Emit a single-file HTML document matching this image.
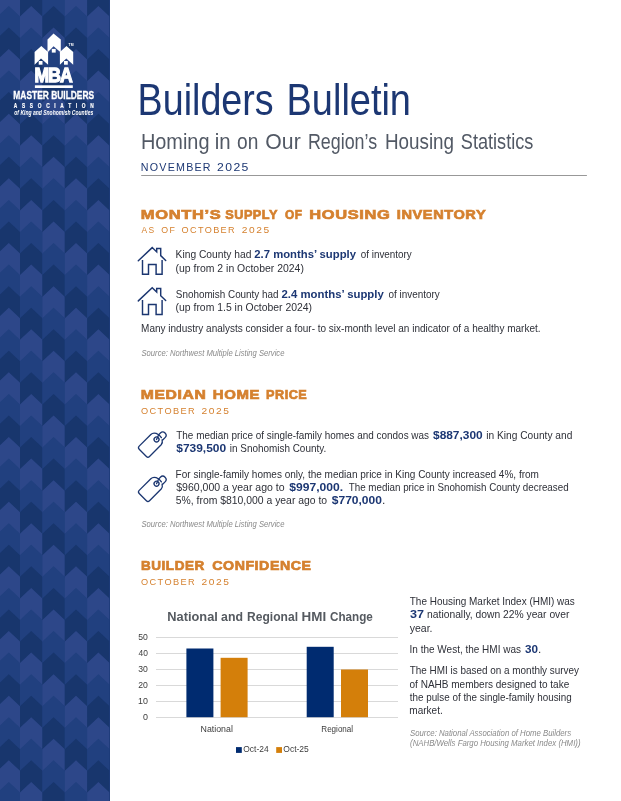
<!DOCTYPE html>
<html lang="en">
<head>
<meta charset="utf-8">
<title>Builders Bulletin</title>
<style>
html,body{margin:0;padding:0;background:#fff;}
body{width:621px;height:801px;position:relative;overflow:hidden;font-family:"Liberation Sans",sans-serif;}
.t{position:absolute;left:0;white-space:nowrap;line-height:1;transform-origin:0 50%;}
.t b{color:#1c3773;font-weight:bold;}
svg{position:absolute;left:0;top:0;}
</style>
</head>
<body>
<svg width="621" height="801" viewBox="0 0 621 801">
<defs><clipPath id="sb"><rect x="0" y="0" width="110" height="801"/></clipPath></defs>
<rect x="0" y="0" width="110" height="801" fill="#21407f"/>
<g clip-path="url(#sb)" shape-rendering="geometricPrecision">
<polygon fill="#2d4789" points="-2.40,-5.16 8.80,-15.66 20.00,-5.16 20.00,16.90 8.80,6.40 -2.40,16.90"/>
<polygon fill="#21407f" points="-2.40,16.40 8.80,5.90 20.00,16.40 20.00,38.46 8.80,27.96 -2.40,38.46"/>
<polygon fill="#18366d" points="-2.40,37.96 8.80,27.46 20.00,37.96 20.00,60.01 8.80,49.51 -2.40,60.01"/>
<polygon fill="#2d4789" points="-2.40,59.51 8.80,49.01 20.00,59.51 20.00,81.57 8.80,71.07 -2.40,81.57"/>
<polygon fill="#21407f" points="-2.40,81.07 8.80,70.57 20.00,81.07 20.00,103.12 8.80,92.62 -2.40,103.12"/>
<polygon fill="#18366d" points="-2.40,102.62 8.80,92.12 20.00,102.62 20.00,124.68 8.80,114.18 -2.40,124.68"/>
<polygon fill="#2d4789" points="-2.40,124.18 8.80,113.68 20.00,124.18 20.00,146.24 8.80,135.74 -2.40,146.24"/>
<polygon fill="#21407f" points="-2.40,145.74 8.80,135.24 20.00,145.74 20.00,167.79 8.80,157.29 -2.40,167.79"/>
<polygon fill="#18366d" points="-2.40,167.29 8.80,156.79 20.00,167.29 20.00,189.35 8.80,178.85 -2.40,189.35"/>
<polygon fill="#2d4789" points="-2.40,188.85 8.80,178.35 20.00,188.85 20.00,210.90 8.80,200.40 -2.40,210.90"/>
<polygon fill="#21407f" points="-2.40,210.40 8.80,199.90 20.00,210.40 20.00,232.46 8.80,221.96 -2.40,232.46"/>
<polygon fill="#18366d" points="-2.40,231.96 8.80,221.46 20.00,231.96 20.00,254.02 8.80,243.52 -2.40,254.02"/>
<polygon fill="#2d4789" points="-2.40,253.52 8.80,243.02 20.00,253.52 20.00,275.57 8.80,265.07 -2.40,275.57"/>
<polygon fill="#21407f" points="-2.40,275.07 8.80,264.57 20.00,275.07 20.00,297.13 8.80,286.63 -2.40,297.13"/>
<polygon fill="#18366d" points="-2.40,296.63 8.80,286.13 20.00,296.63 20.00,318.68 8.80,308.18 -2.40,318.68"/>
<polygon fill="#2d4789" points="-2.40,318.18 8.80,307.68 20.00,318.18 20.00,340.24 8.80,329.74 -2.40,340.24"/>
<polygon fill="#21407f" points="-2.40,339.74 8.80,329.24 20.00,339.74 20.00,361.80 8.80,351.30 -2.40,361.80"/>
<polygon fill="#18366d" points="-2.40,361.30 8.80,350.80 20.00,361.30 20.00,383.35 8.80,372.85 -2.40,383.35"/>
<polygon fill="#2d4789" points="-2.40,382.85 8.80,372.35 20.00,382.85 20.00,404.91 8.80,394.41 -2.40,404.91"/>
<polygon fill="#21407f" points="-2.40,404.41 8.80,393.91 20.00,404.41 20.00,426.46 8.80,415.96 -2.40,426.46"/>
<polygon fill="#18366d" points="-2.40,425.96 8.80,415.46 20.00,425.96 20.00,448.02 8.80,437.52 -2.40,448.02"/>
<polygon fill="#2d4789" points="-2.40,447.52 8.80,437.02 20.00,447.52 20.00,469.58 8.80,459.08 -2.40,469.58"/>
<polygon fill="#21407f" points="-2.40,469.08 8.80,458.58 20.00,469.08 20.00,491.13 8.80,480.63 -2.40,491.13"/>
<polygon fill="#18366d" points="-2.40,490.63 8.80,480.13 20.00,490.63 20.00,512.69 8.80,502.19 -2.40,512.69"/>
<polygon fill="#2d4789" points="-2.40,512.19 8.80,501.69 20.00,512.19 20.00,534.24 8.80,523.74 -2.40,534.24"/>
<polygon fill="#21407f" points="-2.40,533.74 8.80,523.24 20.00,533.74 20.00,555.80 8.80,545.30 -2.40,555.80"/>
<polygon fill="#18366d" points="-2.40,555.30 8.80,544.80 20.00,555.30 20.00,577.36 8.80,566.86 -2.40,577.36"/>
<polygon fill="#2d4789" points="-2.40,576.86 8.80,566.36 20.00,576.86 20.00,598.91 8.80,588.41 -2.40,598.91"/>
<polygon fill="#21407f" points="-2.40,598.41 8.80,587.91 20.00,598.41 20.00,620.47 8.80,609.97 -2.40,620.47"/>
<polygon fill="#18366d" points="-2.40,619.97 8.80,609.47 20.00,619.97 20.00,642.02 8.80,631.52 -2.40,642.02"/>
<polygon fill="#2d4789" points="-2.40,641.52 8.80,631.02 20.00,641.52 20.00,663.58 8.80,653.08 -2.40,663.58"/>
<polygon fill="#21407f" points="-2.40,663.08 8.80,652.58 20.00,663.08 20.00,685.14 8.80,674.64 -2.40,685.14"/>
<polygon fill="#18366d" points="-2.40,684.64 8.80,674.14 20.00,684.64 20.00,706.69 8.80,696.19 -2.40,706.69"/>
<polygon fill="#2d4789" points="-2.40,706.19 8.80,695.69 20.00,706.19 20.00,728.25 8.80,717.75 -2.40,728.25"/>
<polygon fill="#21407f" points="-2.40,727.75 8.80,717.25 20.00,727.75 20.00,749.80 8.80,739.30 -2.40,749.80"/>
<polygon fill="#18366d" points="-2.40,749.30 8.80,738.80 20.00,749.30 20.00,771.36 8.80,760.86 -2.40,771.36"/>
<polygon fill="#2d4789" points="-2.40,770.86 8.80,760.36 20.00,770.86 20.00,792.92 8.80,782.42 -2.40,792.92"/>
<polygon fill="#21407f" points="-2.40,792.42 8.80,781.92 20.00,792.42 20.00,814.47 8.80,803.97 -2.40,814.47"/>
<polygon fill="#18366d" points="-2.40,813.97 8.80,803.47 20.00,813.97 20.00,836.03 8.80,825.53 -2.40,836.03"/>
<polygon fill="#2d4789" points="-2.40,835.53 8.80,825.03 20.00,835.53 20.00,857.58 8.80,847.08 -2.40,857.58"/>
<polygon fill="#18366d" points="20.00,-5.16 31.20,-15.66 42.40,-5.16 42.40,16.90 31.20,6.40 20.00,16.90"/>
<polygon fill="#2d4789" points="20.00,16.40 31.20,5.90 42.40,16.40 42.40,38.46 31.20,27.96 20.00,38.46"/>
<polygon fill="#21407f" points="20.00,37.96 31.20,27.46 42.40,37.96 42.40,60.01 31.20,49.51 20.00,60.01"/>
<polygon fill="#18366d" points="20.00,59.51 31.20,49.01 42.40,59.51 42.40,81.57 31.20,71.07 20.00,81.57"/>
<polygon fill="#2d4789" points="20.00,81.07 31.20,70.57 42.40,81.07 42.40,103.12 31.20,92.62 20.00,103.12"/>
<polygon fill="#21407f" points="20.00,102.62 31.20,92.12 42.40,102.62 42.40,124.68 31.20,114.18 20.00,124.68"/>
<polygon fill="#18366d" points="20.00,124.18 31.20,113.68 42.40,124.18 42.40,146.24 31.20,135.74 20.00,146.24"/>
<polygon fill="#2d4789" points="20.00,145.74 31.20,135.24 42.40,145.74 42.40,167.79 31.20,157.29 20.00,167.79"/>
<polygon fill="#21407f" points="20.00,167.29 31.20,156.79 42.40,167.29 42.40,189.35 31.20,178.85 20.00,189.35"/>
<polygon fill="#18366d" points="20.00,188.85 31.20,178.35 42.40,188.85 42.40,210.90 31.20,200.40 20.00,210.90"/>
<polygon fill="#2d4789" points="20.00,210.40 31.20,199.90 42.40,210.40 42.40,232.46 31.20,221.96 20.00,232.46"/>
<polygon fill="#21407f" points="20.00,231.96 31.20,221.46 42.40,231.96 42.40,254.02 31.20,243.52 20.00,254.02"/>
<polygon fill="#18366d" points="20.00,253.52 31.20,243.02 42.40,253.52 42.40,275.57 31.20,265.07 20.00,275.57"/>
<polygon fill="#2d4789" points="20.00,275.07 31.20,264.57 42.40,275.07 42.40,297.13 31.20,286.63 20.00,297.13"/>
<polygon fill="#21407f" points="20.00,296.63 31.20,286.13 42.40,296.63 42.40,318.68 31.20,308.18 20.00,318.68"/>
<polygon fill="#18366d" points="20.00,318.18 31.20,307.68 42.40,318.18 42.40,340.24 31.20,329.74 20.00,340.24"/>
<polygon fill="#2d4789" points="20.00,339.74 31.20,329.24 42.40,339.74 42.40,361.80 31.20,351.30 20.00,361.80"/>
<polygon fill="#21407f" points="20.00,361.30 31.20,350.80 42.40,361.30 42.40,383.35 31.20,372.85 20.00,383.35"/>
<polygon fill="#18366d" points="20.00,382.85 31.20,372.35 42.40,382.85 42.40,404.91 31.20,394.41 20.00,404.91"/>
<polygon fill="#2d4789" points="20.00,404.41 31.20,393.91 42.40,404.41 42.40,426.46 31.20,415.96 20.00,426.46"/>
<polygon fill="#21407f" points="20.00,425.96 31.20,415.46 42.40,425.96 42.40,448.02 31.20,437.52 20.00,448.02"/>
<polygon fill="#18366d" points="20.00,447.52 31.20,437.02 42.40,447.52 42.40,469.58 31.20,459.08 20.00,469.58"/>
<polygon fill="#2d4789" points="20.00,469.08 31.20,458.58 42.40,469.08 42.40,491.13 31.20,480.63 20.00,491.13"/>
<polygon fill="#21407f" points="20.00,490.63 31.20,480.13 42.40,490.63 42.40,512.69 31.20,502.19 20.00,512.69"/>
<polygon fill="#18366d" points="20.00,512.19 31.20,501.69 42.40,512.19 42.40,534.24 31.20,523.74 20.00,534.24"/>
<polygon fill="#2d4789" points="20.00,533.74 31.20,523.24 42.40,533.74 42.40,555.80 31.20,545.30 20.00,555.80"/>
<polygon fill="#21407f" points="20.00,555.30 31.20,544.80 42.40,555.30 42.40,577.36 31.20,566.86 20.00,577.36"/>
<polygon fill="#18366d" points="20.00,576.86 31.20,566.36 42.40,576.86 42.40,598.91 31.20,588.41 20.00,598.91"/>
<polygon fill="#2d4789" points="20.00,598.41 31.20,587.91 42.40,598.41 42.40,620.47 31.20,609.97 20.00,620.47"/>
<polygon fill="#21407f" points="20.00,619.97 31.20,609.47 42.40,619.97 42.40,642.02 31.20,631.52 20.00,642.02"/>
<polygon fill="#18366d" points="20.00,641.52 31.20,631.02 42.40,641.52 42.40,663.58 31.20,653.08 20.00,663.58"/>
<polygon fill="#2d4789" points="20.00,663.08 31.20,652.58 42.40,663.08 42.40,685.14 31.20,674.64 20.00,685.14"/>
<polygon fill="#21407f" points="20.00,684.64 31.20,674.14 42.40,684.64 42.40,706.69 31.20,696.19 20.00,706.69"/>
<polygon fill="#18366d" points="20.00,706.19 31.20,695.69 42.40,706.19 42.40,728.25 31.20,717.75 20.00,728.25"/>
<polygon fill="#2d4789" points="20.00,727.75 31.20,717.25 42.40,727.75 42.40,749.80 31.20,739.30 20.00,749.80"/>
<polygon fill="#21407f" points="20.00,749.30 31.20,738.80 42.40,749.30 42.40,771.36 31.20,760.86 20.00,771.36"/>
<polygon fill="#18366d" points="20.00,770.86 31.20,760.36 42.40,770.86 42.40,792.92 31.20,782.42 20.00,792.92"/>
<polygon fill="#2d4789" points="20.00,792.42 31.20,781.92 42.40,792.42 42.40,814.47 31.20,803.97 20.00,814.47"/>
<polygon fill="#21407f" points="20.00,813.97 31.20,803.47 42.40,813.97 42.40,836.03 31.20,825.53 20.00,836.03"/>
<polygon fill="#18366d" points="20.00,835.53 31.20,825.03 42.40,835.53 42.40,857.58 31.20,847.08 20.00,857.58"/>
<polygon fill="#21407f" points="42.40,-5.16 53.60,-15.66 64.80,-5.16 64.80,16.90 53.60,6.40 42.40,16.90"/>
<polygon fill="#18366d" points="42.40,16.40 53.60,5.90 64.80,16.40 64.80,38.46 53.60,27.96 42.40,38.46"/>
<polygon fill="#2d4789" points="42.40,37.96 53.60,27.46 64.80,37.96 64.80,60.01 53.60,49.51 42.40,60.01"/>
<polygon fill="#21407f" points="42.40,59.51 53.60,49.01 64.80,59.51 64.80,81.57 53.60,71.07 42.40,81.57"/>
<polygon fill="#18366d" points="42.40,81.07 53.60,70.57 64.80,81.07 64.80,103.12 53.60,92.62 42.40,103.12"/>
<polygon fill="#2d4789" points="42.40,102.62 53.60,92.12 64.80,102.62 64.80,124.68 53.60,114.18 42.40,124.68"/>
<polygon fill="#21407f" points="42.40,124.18 53.60,113.68 64.80,124.18 64.80,146.24 53.60,135.74 42.40,146.24"/>
<polygon fill="#18366d" points="42.40,145.74 53.60,135.24 64.80,145.74 64.80,167.79 53.60,157.29 42.40,167.79"/>
<polygon fill="#2d4789" points="42.40,167.29 53.60,156.79 64.80,167.29 64.80,189.35 53.60,178.85 42.40,189.35"/>
<polygon fill="#21407f" points="42.40,188.85 53.60,178.35 64.80,188.85 64.80,210.90 53.60,200.40 42.40,210.90"/>
<polygon fill="#18366d" points="42.40,210.40 53.60,199.90 64.80,210.40 64.80,232.46 53.60,221.96 42.40,232.46"/>
<polygon fill="#2d4789" points="42.40,231.96 53.60,221.46 64.80,231.96 64.80,254.02 53.60,243.52 42.40,254.02"/>
<polygon fill="#21407f" points="42.40,253.52 53.60,243.02 64.80,253.52 64.80,275.57 53.60,265.07 42.40,275.57"/>
<polygon fill="#18366d" points="42.40,275.07 53.60,264.57 64.80,275.07 64.80,297.13 53.60,286.63 42.40,297.13"/>
<polygon fill="#2d4789" points="42.40,296.63 53.60,286.13 64.80,296.63 64.80,318.68 53.60,308.18 42.40,318.68"/>
<polygon fill="#21407f" points="42.40,318.18 53.60,307.68 64.80,318.18 64.80,340.24 53.60,329.74 42.40,340.24"/>
<polygon fill="#18366d" points="42.40,339.74 53.60,329.24 64.80,339.74 64.80,361.80 53.60,351.30 42.40,361.80"/>
<polygon fill="#2d4789" points="42.40,361.30 53.60,350.80 64.80,361.30 64.80,383.35 53.60,372.85 42.40,383.35"/>
<polygon fill="#21407f" points="42.40,382.85 53.60,372.35 64.80,382.85 64.80,404.91 53.60,394.41 42.40,404.91"/>
<polygon fill="#18366d" points="42.40,404.41 53.60,393.91 64.80,404.41 64.80,426.46 53.60,415.96 42.40,426.46"/>
<polygon fill="#2d4789" points="42.40,425.96 53.60,415.46 64.80,425.96 64.80,448.02 53.60,437.52 42.40,448.02"/>
<polygon fill="#21407f" points="42.40,447.52 53.60,437.02 64.80,447.52 64.80,469.58 53.60,459.08 42.40,469.58"/>
<polygon fill="#18366d" points="42.40,469.08 53.60,458.58 64.80,469.08 64.80,491.13 53.60,480.63 42.40,491.13"/>
<polygon fill="#2d4789" points="42.40,490.63 53.60,480.13 64.80,490.63 64.80,512.69 53.60,502.19 42.40,512.69"/>
<polygon fill="#21407f" points="42.40,512.19 53.60,501.69 64.80,512.19 64.80,534.24 53.60,523.74 42.40,534.24"/>
<polygon fill="#18366d" points="42.40,533.74 53.60,523.24 64.80,533.74 64.80,555.80 53.60,545.30 42.40,555.80"/>
<polygon fill="#2d4789" points="42.40,555.30 53.60,544.80 64.80,555.30 64.80,577.36 53.60,566.86 42.40,577.36"/>
<polygon fill="#21407f" points="42.40,576.86 53.60,566.36 64.80,576.86 64.80,598.91 53.60,588.41 42.40,598.91"/>
<polygon fill="#18366d" points="42.40,598.41 53.60,587.91 64.80,598.41 64.80,620.47 53.60,609.97 42.40,620.47"/>
<polygon fill="#2d4789" points="42.40,619.97 53.60,609.47 64.80,619.97 64.80,642.02 53.60,631.52 42.40,642.02"/>
<polygon fill="#21407f" points="42.40,641.52 53.60,631.02 64.80,641.52 64.80,663.58 53.60,653.08 42.40,663.58"/>
<polygon fill="#18366d" points="42.40,663.08 53.60,652.58 64.80,663.08 64.80,685.14 53.60,674.64 42.40,685.14"/>
<polygon fill="#2d4789" points="42.40,684.64 53.60,674.14 64.80,684.64 64.80,706.69 53.60,696.19 42.40,706.69"/>
<polygon fill="#21407f" points="42.40,706.19 53.60,695.69 64.80,706.19 64.80,728.25 53.60,717.75 42.40,728.25"/>
<polygon fill="#18366d" points="42.40,727.75 53.60,717.25 64.80,727.75 64.80,749.80 53.60,739.30 42.40,749.80"/>
<polygon fill="#2d4789" points="42.40,749.30 53.60,738.80 64.80,749.30 64.80,771.36 53.60,760.86 42.40,771.36"/>
<polygon fill="#21407f" points="42.40,770.86 53.60,760.36 64.80,770.86 64.80,792.92 53.60,782.42 42.40,792.92"/>
<polygon fill="#18366d" points="42.40,792.42 53.60,781.92 64.80,792.42 64.80,814.47 53.60,803.97 42.40,814.47"/>
<polygon fill="#2d4789" points="42.40,813.97 53.60,803.47 64.80,813.97 64.80,836.03 53.60,825.53 42.40,836.03"/>
<polygon fill="#21407f" points="42.40,835.53 53.60,825.03 64.80,835.53 64.80,857.58 53.60,847.08 42.40,857.58"/>
<polygon fill="#2d4789" points="64.80,-5.16 76.00,-15.66 87.20,-5.16 87.20,16.90 76.00,6.40 64.80,16.90"/>
<polygon fill="#21407f" points="64.80,16.40 76.00,5.90 87.20,16.40 87.20,38.46 76.00,27.96 64.80,38.46"/>
<polygon fill="#18366d" points="64.80,37.96 76.00,27.46 87.20,37.96 87.20,60.01 76.00,49.51 64.80,60.01"/>
<polygon fill="#2d4789" points="64.80,59.51 76.00,49.01 87.20,59.51 87.20,81.57 76.00,71.07 64.80,81.57"/>
<polygon fill="#21407f" points="64.80,81.07 76.00,70.57 87.20,81.07 87.20,103.12 76.00,92.62 64.80,103.12"/>
<polygon fill="#18366d" points="64.80,102.62 76.00,92.12 87.20,102.62 87.20,124.68 76.00,114.18 64.80,124.68"/>
<polygon fill="#2d4789" points="64.80,124.18 76.00,113.68 87.20,124.18 87.20,146.24 76.00,135.74 64.80,146.24"/>
<polygon fill="#21407f" points="64.80,145.74 76.00,135.24 87.20,145.74 87.20,167.79 76.00,157.29 64.80,167.79"/>
<polygon fill="#18366d" points="64.80,167.29 76.00,156.79 87.20,167.29 87.20,189.35 76.00,178.85 64.80,189.35"/>
<polygon fill="#2d4789" points="64.80,188.85 76.00,178.35 87.20,188.85 87.20,210.90 76.00,200.40 64.80,210.90"/>
<polygon fill="#21407f" points="64.80,210.40 76.00,199.90 87.20,210.40 87.20,232.46 76.00,221.96 64.80,232.46"/>
<polygon fill="#18366d" points="64.80,231.96 76.00,221.46 87.20,231.96 87.20,254.02 76.00,243.52 64.80,254.02"/>
<polygon fill="#2d4789" points="64.80,253.52 76.00,243.02 87.20,253.52 87.20,275.57 76.00,265.07 64.80,275.57"/>
<polygon fill="#21407f" points="64.80,275.07 76.00,264.57 87.20,275.07 87.20,297.13 76.00,286.63 64.80,297.13"/>
<polygon fill="#18366d" points="64.80,296.63 76.00,286.13 87.20,296.63 87.20,318.68 76.00,308.18 64.80,318.68"/>
<polygon fill="#2d4789" points="64.80,318.18 76.00,307.68 87.20,318.18 87.20,340.24 76.00,329.74 64.80,340.24"/>
<polygon fill="#21407f" points="64.80,339.74 76.00,329.24 87.20,339.74 87.20,361.80 76.00,351.30 64.80,361.80"/>
<polygon fill="#18366d" points="64.80,361.30 76.00,350.80 87.20,361.30 87.20,383.35 76.00,372.85 64.80,383.35"/>
<polygon fill="#2d4789" points="64.80,382.85 76.00,372.35 87.20,382.85 87.20,404.91 76.00,394.41 64.80,404.91"/>
<polygon fill="#21407f" points="64.80,404.41 76.00,393.91 87.20,404.41 87.20,426.46 76.00,415.96 64.80,426.46"/>
<polygon fill="#18366d" points="64.80,425.96 76.00,415.46 87.20,425.96 87.20,448.02 76.00,437.52 64.80,448.02"/>
<polygon fill="#2d4789" points="64.80,447.52 76.00,437.02 87.20,447.52 87.20,469.58 76.00,459.08 64.80,469.58"/>
<polygon fill="#21407f" points="64.80,469.08 76.00,458.58 87.20,469.08 87.20,491.13 76.00,480.63 64.80,491.13"/>
<polygon fill="#18366d" points="64.80,490.63 76.00,480.13 87.20,490.63 87.20,512.69 76.00,502.19 64.80,512.69"/>
<polygon fill="#2d4789" points="64.80,512.19 76.00,501.69 87.20,512.19 87.20,534.24 76.00,523.74 64.80,534.24"/>
<polygon fill="#21407f" points="64.80,533.74 76.00,523.24 87.20,533.74 87.20,555.80 76.00,545.30 64.80,555.80"/>
<polygon fill="#18366d" points="64.80,555.30 76.00,544.80 87.20,555.30 87.20,577.36 76.00,566.86 64.80,577.36"/>
<polygon fill="#2d4789" points="64.80,576.86 76.00,566.36 87.20,576.86 87.20,598.91 76.00,588.41 64.80,598.91"/>
<polygon fill="#21407f" points="64.80,598.41 76.00,587.91 87.20,598.41 87.20,620.47 76.00,609.97 64.80,620.47"/>
<polygon fill="#18366d" points="64.80,619.97 76.00,609.47 87.20,619.97 87.20,642.02 76.00,631.52 64.80,642.02"/>
<polygon fill="#2d4789" points="64.80,641.52 76.00,631.02 87.20,641.52 87.20,663.58 76.00,653.08 64.80,663.58"/>
<polygon fill="#21407f" points="64.80,663.08 76.00,652.58 87.20,663.08 87.20,685.14 76.00,674.64 64.80,685.14"/>
<polygon fill="#18366d" points="64.80,684.64 76.00,674.14 87.20,684.64 87.20,706.69 76.00,696.19 64.80,706.69"/>
<polygon fill="#2d4789" points="64.80,706.19 76.00,695.69 87.20,706.19 87.20,728.25 76.00,717.75 64.80,728.25"/>
<polygon fill="#21407f" points="64.80,727.75 76.00,717.25 87.20,727.75 87.20,749.80 76.00,739.30 64.80,749.80"/>
<polygon fill="#18366d" points="64.80,749.30 76.00,738.80 87.20,749.30 87.20,771.36 76.00,760.86 64.80,771.36"/>
<polygon fill="#2d4789" points="64.80,770.86 76.00,760.36 87.20,770.86 87.20,792.92 76.00,782.42 64.80,792.92"/>
<polygon fill="#21407f" points="64.80,792.42 76.00,781.92 87.20,792.42 87.20,814.47 76.00,803.97 64.80,814.47"/>
<polygon fill="#18366d" points="64.80,813.97 76.00,803.47 87.20,813.97 87.20,836.03 76.00,825.53 64.80,836.03"/>
<polygon fill="#2d4789" points="64.80,835.53 76.00,825.03 87.20,835.53 87.20,857.58 76.00,847.08 64.80,857.58"/>
<polygon fill="#18366d" points="87.20,-5.16 98.40,-15.66 109.60,-5.16 109.60,16.90 98.40,6.40 87.20,16.90"/>
<polygon fill="#2d4789" points="87.20,16.40 98.40,5.90 109.60,16.40 109.60,38.46 98.40,27.96 87.20,38.46"/>
<polygon fill="#21407f" points="87.20,37.96 98.40,27.46 109.60,37.96 109.60,60.01 98.40,49.51 87.20,60.01"/>
<polygon fill="#18366d" points="87.20,59.51 98.40,49.01 109.60,59.51 109.60,81.57 98.40,71.07 87.20,81.57"/>
<polygon fill="#2d4789" points="87.20,81.07 98.40,70.57 109.60,81.07 109.60,103.12 98.40,92.62 87.20,103.12"/>
<polygon fill="#21407f" points="87.20,102.62 98.40,92.12 109.60,102.62 109.60,124.68 98.40,114.18 87.20,124.68"/>
<polygon fill="#18366d" points="87.20,124.18 98.40,113.68 109.60,124.18 109.60,146.24 98.40,135.74 87.20,146.24"/>
<polygon fill="#2d4789" points="87.20,145.74 98.40,135.24 109.60,145.74 109.60,167.79 98.40,157.29 87.20,167.79"/>
<polygon fill="#21407f" points="87.20,167.29 98.40,156.79 109.60,167.29 109.60,189.35 98.40,178.85 87.20,189.35"/>
<polygon fill="#18366d" points="87.20,188.85 98.40,178.35 109.60,188.85 109.60,210.90 98.40,200.40 87.20,210.90"/>
<polygon fill="#2d4789" points="87.20,210.40 98.40,199.90 109.60,210.40 109.60,232.46 98.40,221.96 87.20,232.46"/>
<polygon fill="#21407f" points="87.20,231.96 98.40,221.46 109.60,231.96 109.60,254.02 98.40,243.52 87.20,254.02"/>
<polygon fill="#18366d" points="87.20,253.52 98.40,243.02 109.60,253.52 109.60,275.57 98.40,265.07 87.20,275.57"/>
<polygon fill="#2d4789" points="87.20,275.07 98.40,264.57 109.60,275.07 109.60,297.13 98.40,286.63 87.20,297.13"/>
<polygon fill="#21407f" points="87.20,296.63 98.40,286.13 109.60,296.63 109.60,318.68 98.40,308.18 87.20,318.68"/>
<polygon fill="#18366d" points="87.20,318.18 98.40,307.68 109.60,318.18 109.60,340.24 98.40,329.74 87.20,340.24"/>
<polygon fill="#2d4789" points="87.20,339.74 98.40,329.24 109.60,339.74 109.60,361.80 98.40,351.30 87.20,361.80"/>
<polygon fill="#21407f" points="87.20,361.30 98.40,350.80 109.60,361.30 109.60,383.35 98.40,372.85 87.20,383.35"/>
<polygon fill="#18366d" points="87.20,382.85 98.40,372.35 109.60,382.85 109.60,404.91 98.40,394.41 87.20,404.91"/>
<polygon fill="#2d4789" points="87.20,404.41 98.40,393.91 109.60,404.41 109.60,426.46 98.40,415.96 87.20,426.46"/>
<polygon fill="#21407f" points="87.20,425.96 98.40,415.46 109.60,425.96 109.60,448.02 98.40,437.52 87.20,448.02"/>
<polygon fill="#18366d" points="87.20,447.52 98.40,437.02 109.60,447.52 109.60,469.58 98.40,459.08 87.20,469.58"/>
<polygon fill="#2d4789" points="87.20,469.08 98.40,458.58 109.60,469.08 109.60,491.13 98.40,480.63 87.20,491.13"/>
<polygon fill="#21407f" points="87.20,490.63 98.40,480.13 109.60,490.63 109.60,512.69 98.40,502.19 87.20,512.69"/>
<polygon fill="#18366d" points="87.20,512.19 98.40,501.69 109.60,512.19 109.60,534.24 98.40,523.74 87.20,534.24"/>
<polygon fill="#2d4789" points="87.20,533.74 98.40,523.24 109.60,533.74 109.60,555.80 98.40,545.30 87.20,555.80"/>
<polygon fill="#21407f" points="87.20,555.30 98.40,544.80 109.60,555.30 109.60,577.36 98.40,566.86 87.20,577.36"/>
<polygon fill="#18366d" points="87.20,576.86 98.40,566.36 109.60,576.86 109.60,598.91 98.40,588.41 87.20,598.91"/>
<polygon fill="#2d4789" points="87.20,598.41 98.40,587.91 109.60,598.41 109.60,620.47 98.40,609.97 87.20,620.47"/>
<polygon fill="#21407f" points="87.20,619.97 98.40,609.47 109.60,619.97 109.60,642.02 98.40,631.52 87.20,642.02"/>
<polygon fill="#18366d" points="87.20,641.52 98.40,631.02 109.60,641.52 109.60,663.58 98.40,653.08 87.20,663.58"/>
<polygon fill="#2d4789" points="87.20,663.08 98.40,652.58 109.60,663.08 109.60,685.14 98.40,674.64 87.20,685.14"/>
<polygon fill="#21407f" points="87.20,684.64 98.40,674.14 109.60,684.64 109.60,706.69 98.40,696.19 87.20,706.69"/>
<polygon fill="#18366d" points="87.20,706.19 98.40,695.69 109.60,706.19 109.60,728.25 98.40,717.75 87.20,728.25"/>
<polygon fill="#2d4789" points="87.20,727.75 98.40,717.25 109.60,727.75 109.60,749.80 98.40,739.30 87.20,749.80"/>
<polygon fill="#21407f" points="87.20,749.30 98.40,738.80 109.60,749.30 109.60,771.36 98.40,760.86 87.20,771.36"/>
<polygon fill="#18366d" points="87.20,770.86 98.40,760.36 109.60,770.86 109.60,792.92 98.40,782.42 87.20,792.92"/>
<polygon fill="#2d4789" points="87.20,792.42 98.40,781.92 109.60,792.42 109.60,814.47 98.40,803.97 87.20,814.47"/>
<polygon fill="#21407f" points="87.20,813.97 98.40,803.47 109.60,813.97 109.60,836.03 98.40,825.53 87.20,836.03"/>
<polygon fill="#18366d" points="87.20,835.53 98.40,825.03 109.60,835.53 109.60,857.58 98.40,847.08 87.20,857.58"/>
<rect x="109.3" y="0" width="0.7" height="801" fill="#1c3a78"/>
</g>
<!-- logo -->
<g fill="#fff">
  <!-- center house -->
  <polygon points="53.5,33.5 60.8,39.6 60.8,52.5 53.6,46.2 47.5,52.5 47.5,39.6"/>
  <rect x="51.8" y="48.9" width="3.9" height="3.7"/>
  <!-- left house -->
  <polygon points="41.3,45.9 48.1,52 48.1,64.8 41,58.6 34.6,64.8 34.6,52"/>
  <rect x="38.7" y="61" width="3.8" height="3.7"/>
  <!-- right house -->
  <polygon points="66.5,45.9 73.2,52 73.2,64.8 66.3,58.6 59.9,64.8 59.9,52"/>
  <rect x="64" y="61" width="3.8" height="3.7"/>
  <rect x="34.9" y="85.3" width="37.9" height="2.7"/>
</g>
<text x="34.4" y="82.4" font-family="Liberation Sans, sans-serif" font-weight="bold" font-size="20.9" fill="#fff" textLength="37.6" lengthAdjust="spacingAndGlyphs" stroke="#fff" stroke-width="1.3" stroke-linejoin="miter" letter-spacing="-1">MBA</text>
<text x="68.6" y="46.3" font-family="Liberation Sans, sans-serif" font-weight="bold" font-size="3.4" fill="#fff">TM</text>

<!-- rule -->
<rect x="141.2" y="175" width="445.7" height="1" fill="#989898"/>

<!-- house icons -->
<g fill="none" stroke="#1b3670" stroke-width="1.45" stroke-linecap="round" stroke-linejoin="miter">
  <g transform="translate(0,0.4)">
    <path d="M138.3,260.4 L152.2,247.2 L156.7,251.5 L156.7,248 L160.7,248 L160.7,255.2 L165.7,260.1"/>
    <path d="M142.5,259.5 V273.9 H148.5 V264 H156.1 V273.9 H162.1 V259.5" stroke-linecap="butt"/>
  </g>
  <g transform="translate(0,40.5)">
    <path d="M138.3,260.4 L152.2,247.2 L156.7,251.5 L156.7,248 L160.7,248 L160.7,255.2 L165.7,260.1"/>
    <path d="M142.5,259.5 V273.9 H148.5 V264 H156.1 V273.9 H162.1 V259.5" stroke-linecap="butt"/>
  </g>
</g>
<!-- tag icons -->
<g fill="none" stroke="#1b3670" stroke-width="1.3" stroke-linecap="round" stroke-linejoin="round">
  <g transform="translate(151.28,444.38) rotate(-45)">
    <path d="M10.9,4.4 A5.5,7.3 0 0 1 6.7,7.3 H-9.8 Q-12,7.3 -12,5.1 V-5.1 Q-12,-7.3 -9.8,-7.3 H6.7 A5.5,7.3 0 0 1 11.9,2.4"/>
    <circle cx="7.2" cy="0.25" r="2.45"/>
    <path d="M7.2,0.25 L12.2,-1.6 H14.5 A3.3,3.3 0 0 1 14.5,5 H11.1"/>
  </g>
  <g transform="translate(151.28,488.6) rotate(-45)">
    <path d="M10.9,4.4 A5.5,7.3 0 0 1 6.7,7.3 H-9.8 Q-12,7.3 -12,5.1 V-5.1 Q-12,-7.3 -9.8,-7.3 H6.7 A5.5,7.3 0 0 1 11.9,2.4"/>
    <circle cx="7.2" cy="0.25" r="2.45"/>
    <path d="M7.2,0.25 L12.2,-1.6 H14.5 A3.3,3.3 0 0 1 14.5,5 H11.1"/>
  </g>
</g>

<!-- chart -->
<g shape-rendering="crispEdges">
  <g fill="#d9d9d9">
    <rect x="156" y="637" width="242.2" height="1"/>
    <rect x="156" y="653" width="242.2" height="1"/>
    <rect x="156" y="669" width="242.2" height="1"/>
    <rect x="156" y="685" width="242.2" height="1"/>
    <rect x="156" y="701" width="242.2" height="1"/>
    <rect x="156" y="717" width="242.2" height="1"/>
  </g>
</g>
<g>
  <rect x="186.4" y="648.5" width="27" height="68.7" fill="#002b70"/>
  <rect x="220.6" y="657.8" width="27" height="59.4" fill="#d47f0a"/>
  <rect x="306.7" y="646.8" width="27" height="70.4" fill="#002b70"/>
  <rect x="341" y="669.5" width="27" height="47.7" fill="#d47f0a"/>
  <rect x="236" y="747.1" width="5.8" height="5.8" fill="#002b70"/>
  <rect x="276.2" y="747.1" width="5.8" height="5.8" fill="#d47f0a"/>
</g>
</svg>
<div class="t" id="t0" style="top:77.41px;font-size:45px;color:#1c3773;transform:translateX(137.57px) scaleX(0.8370)">Builders</div>
<div class="t" id="t1" style="top:77.41px;font-size:45px;color:#1c3773;transform:translateX(286.57px) scaleX(0.8428)">Bulletin</div>
<div class="t" id="t2" style="top:132.30px;font-size:21.5px;color:#525965;transform:translateX(140.92px) scaleX(0.9255)">Homing</div>
<div class="t" id="t3" style="top:132.30px;font-size:21.5px;color:#525965;transform:translateX(214.64px) scaleX(0.9488)">in</div>
<div class="t" id="t4" style="top:132.30px;font-size:21.5px;color:#525965;transform:translateX(237.08px) scaleX(0.8896)">on</div>
<div class="t" id="t5" style="top:132.30px;font-size:21.5px;color:#525965;transform:translateX(265.36px) scaleX(0.9860)">Our</div>
<div class="t" id="t6" style="top:132.30px;font-size:21.5px;color:#525965;transform:translateX(307.91px) scaleX(0.8308)">Region’s</div>
<div class="t" id="t7" style="top:132.30px;font-size:21.5px;color:#525965;transform:translateX(384.91px) scaleX(0.8763)">Housing</div>
<div class="t" id="t8" style="top:132.30px;font-size:21.5px;color:#525965;transform:translateX(460.86px) scaleX(0.8424)">Statistics</div>
<div class="t" id="t9" style="top:162.44px;font-size:10.7px;color:#1c3773;letter-spacing:1.2px;transform:translateX(140.86px) scaleX(1.0021)">NOVEMBER</div>
<div class="t" id="t10" style="top:162.44px;font-size:10.7px;color:#1c3773;letter-spacing:1.2px;transform:translateX(217.06px) scaleX(1.1422)">2025</div>
<div class="t" id="t11" style="top:208.58px;font-size:12.9px;color:#d5812f;font-weight:bold;letter-spacing:0.5px;-webkit-text-stroke:0.7px #d5812f;transform:translateX(140.82px) scaleX(1.2788)">MONTH’S</div>
<div class="t" id="t12" style="top:208.58px;font-size:12.9px;color:#d5812f;font-weight:bold;letter-spacing:0.5px;-webkit-text-stroke:0.7px #d5812f;transform:translateX(225.24px) scaleX(0.9866)">SUPPLY</div>
<div class="t" id="t13" style="top:208.58px;font-size:12.9px;color:#d5812f;font-weight:bold;letter-spacing:0.5px;-webkit-text-stroke:0.7px #d5812f;transform:translateX(285.01px) scaleX(0.9232)">OF</div>
<div class="t" id="t14" style="top:208.58px;font-size:12.9px;color:#d5812f;font-weight:bold;letter-spacing:0.5px;-webkit-text-stroke:0.7px #d5812f;transform:translateX(309.31px) scaleX(1.2748)">HOUSING</div>
<div class="t" id="t15" style="top:208.58px;font-size:12.9px;color:#d5812f;font-weight:bold;letter-spacing:0.5px;-webkit-text-stroke:0.7px #d5812f;transform:translateX(396.81px) scaleX(1.1319)">INVENTORY</div>
<div class="t" id="t16" style="top:224.54px;font-size:9.4px;color:#d5812f;letter-spacing:1.4px;transform:translateX(141.50px) scaleX(0.9018)">AS</div>
<div class="t" id="t17" style="top:224.54px;font-size:9.4px;color:#d5812f;letter-spacing:1.4px;transform:translateX(161.31px) scaleX(0.9402)">OF</div>
<div class="t" id="t18" style="top:224.54px;font-size:9.4px;color:#d5812f;letter-spacing:1.4px;transform:translateX(181.55px) scaleX(0.9717)">OCTOBER</div>
<div class="t" id="t19" style="top:224.54px;font-size:9.4px;color:#d5812f;letter-spacing:1.4px;transform:translateX(241.81px) scaleX(1.0886)">2025</div>
<div class="t" id="t20" style="top:249.70px;font-size:10.4px;color:#2e3038;transform:translateX(175.58px) scaleX(0.9865)">King County had</div>
<div class="t" id="t21" style="top:249.70px;font-size:10.4px;color:#1c3773;font-weight:bold;transform:translateX(254.28px) scaleX(1.0874)">2.7 months’ supply</div>
<div class="t" id="t22" style="top:249.70px;font-size:10.4px;color:#2e3038;transform:translateX(360.77px) scaleX(0.9487)">of inventory</div>
<div class="t" id="t23" style="top:263.70px;font-size:10.4px;color:#2e3038;transform:translateX(175.57px) scaleX(1.0054)">(up from 2 in October 2024)</div>
<div class="t" id="t24" style="top:289.70px;font-size:10.4px;color:#2e3038;transform:translateX(175.81px) scaleX(0.9510)">Snohomish County had</div>
<div class="t" id="t25" style="top:289.70px;font-size:10.4px;color:#1c3773;font-weight:bold;transform:translateX(281.54px) scaleX(1.0927)">2.4 months’ supply</div>
<div class="t" id="t26" style="top:289.70px;font-size:10.4px;color:#2e3038;transform:translateX(388.53px) scaleX(0.9533)">of inventory</div>
<div class="t" id="t27" style="top:302.70px;font-size:10.4px;color:#2e3038;transform:translateX(175.57px) scaleX(1.0016)">(up from 1.5 in October 2024)</div>
<div class="t" id="t28" style="top:323.70px;font-size:10.4px;color:#2e3038;transform:translateX(141.08px) scaleX(0.9619)">Many industry analysts consider a four- to six-month level an indicator of a healthy market.</div>
<div class="t" id="t29" style="top:349.39px;font-size:8.4px;color:#8a8a8a;font-style:italic;transform:translateX(141.52px) scaleX(0.9107)">Source: Northwest Multiple Listing Service</div>
<div class="t" id="t30" style="top:388.58px;font-size:12.9px;color:#d5812f;font-weight:bold;letter-spacing:0.5px;-webkit-text-stroke:0.7px #d5812f;transform:translateX(140.82px) scaleX(1.2176)">MEDIAN</div>
<div class="t" id="t31" style="top:388.58px;font-size:12.9px;color:#d5812f;font-weight:bold;letter-spacing:0.5px;-webkit-text-stroke:0.7px #d5812f;transform:translateX(212.81px) scaleX(1.1596)">HOME</div>
<div class="t" id="t32" style="top:388.58px;font-size:12.9px;color:#d5812f;font-weight:bold;letter-spacing:0.5px;-webkit-text-stroke:0.7px #d5812f;transform:translateX(266.04px) scaleX(0.9830)">PRICE</div>
<div class="t" id="t33" style="top:405.54px;font-size:9.4px;color:#d5812f;letter-spacing:1.4px;transform:translateX(141.05px) scaleX(0.9808)">OCTOBER</div>
<div class="t" id="t34" style="top:405.54px;font-size:9.4px;color:#d5812f;letter-spacing:1.4px;transform:translateX(201.55px) scaleX(1.0890)">2025</div>
<div class="t" id="t35" style="top:430.70px;font-size:10.4px;color:#2e3038;transform:translateX(176.27px) scaleX(0.9555)">The median price of single-family homes and condos was</div>
<div class="t" id="t36" style="top:430.70px;font-size:10.4px;color:#1c3773;font-weight:bold;transform:translateX(433.01px) scaleX(1.1453)">$887,300</div>
<div class="t" id="t37" style="top:430.70px;font-size:10.4px;color:#2e3038;transform:translateX(486.31px) scaleX(0.9795)">in King County and</div>
<div class="t" id="t38" style="top:443.70px;font-size:10.4px;color:#1c3773;font-weight:bold;transform:translateX(176.26px) scaleX(1.1510)">$739,500</div>
<div class="t" id="t39" style="top:443.70px;font-size:10.4px;color:#2e3038;transform:translateX(229.82px) scaleX(0.9549)">in Snohomish County.</div>
<div class="t" id="t40" style="top:469.70px;font-size:10.4px;color:#2e3038;transform:translateX(175.59px) scaleX(0.9640)">For single-family homes only, the median price in King County increased 4%, from</div>
<div class="t" id="t41" style="top:482.70px;font-size:10.4px;color:#2e3038;transform:translateX(176.26px) scaleX(1.0137)">$960,000 a year ago to</div>
<div class="t" id="t42" style="top:482.70px;font-size:10.4px;color:#1c3773;font-weight:bold;transform:translateX(289.26px) scaleX(1.1626)">$997,000.</div>
<div class="t" id="t43" style="top:482.70px;font-size:10.4px;color:#2e3038;transform:translateX(348.76px) scaleX(0.9420)">The median price in Snohomish County decreased</div>
<div class="t" id="t44" style="top:495.70px;font-size:10.4px;color:#2e3038;transform:translateX(175.81px) scaleX(0.9998)">5%, from $810,000 a year ago to</div>
<div class="t" id="t45" style="top:495.70px;font-size:10.4px;color:#2e3038;transform:translateX(331.76px) scaleX(1.1570)"><b>$770,000</b>.</div>
<div class="t" id="t46" style="top:520.39px;font-size:8.4px;color:#8a8a8a;font-style:italic;transform:translateX(141.52px) scaleX(0.9107)">Source: Northwest Multiple Listing Service</div>
<div class="t" id="t47" style="top:559.58px;font-size:12.9px;color:#d5812f;font-weight:bold;letter-spacing:0.5px;-webkit-text-stroke:0.7px #d5812f;transform:translateX(141.05px) scaleX(1.0470)">BUILDER</div>
<div class="t" id="t48" style="top:559.58px;font-size:12.9px;color:#d5812f;font-weight:bold;letter-spacing:0.5px;-webkit-text-stroke:0.7px #d5812f;transform:translateX(212.26px) scaleX(1.0998)">CONFIDENCE</div>
<div class="t" id="t49" style="top:576.54px;font-size:9.4px;color:#d5812f;letter-spacing:1.4px;transform:translateX(141.05px) scaleX(0.9808)">OCTOBER</div>
<div class="t" id="t50" style="top:576.54px;font-size:9.4px;color:#d5812f;letter-spacing:1.4px;transform:translateX(201.55px) scaleX(1.0890)">2025</div>
<div class="t" id="t51" style="top:596.70px;font-size:10.4px;color:#2e3038;transform:translateX(409.77px) scaleX(0.9591)">The Housing Market Index (HMI) was</div>
<div class="t" id="t52" style="top:609.70px;font-size:10.4px;color:#1c3773;font-weight:bold;transform:translateX(410.04px) scaleX(1.2146)">37</div>
<div class="t" id="t53" style="top:609.70px;font-size:10.4px;color:#2e3038;transform:translateX(427.08px) scaleX(0.9910)">nationally, down 22% year over</div>
<div class="t" id="t54" style="top:623.70px;font-size:10.4px;color:#2e3038;transform:translateX(409.76px) scaleX(1.0114)">year.</div>
<div class="t" id="t55" style="top:644.70px;font-size:10.4px;color:#2e3038;transform:translateX(409.59px) scaleX(0.9608)">In the West, the HMI was</div>
<div class="t" id="t56" style="top:644.70px;font-size:10.4px;color:#2e3038;transform:translateX(525.02px) scaleX(1.1261)"><b>30</b>.</div>
<div class="t" id="t57" style="top:665.70px;font-size:10.4px;color:#2e3038;transform:translateX(409.77px) scaleX(0.9548)">The HMI is based on a monthly survey</div>
<div class="t" id="t58" style="top:679.70px;font-size:10.4px;color:#2e3038;transform:translateX(409.53px) scaleX(0.9637)">of NAHB members designed to take</div>
<div class="t" id="t59" style="top:692.70px;font-size:10.4px;color:#2e3038;transform:translateX(409.76px) scaleX(0.9472)">the pulse of the single-family housing</div>
<div class="t" id="t60" style="top:705.70px;font-size:10.4px;color:#2e3038;transform:translateX(409.31px) scaleX(0.9650)">market.</div>
<div class="t" id="t61" style="top:729.39px;font-size:8.4px;color:#8a8a8a;font-style:italic;transform:translateX(410.02px) scaleX(0.9292)">Source: National Association of Home Builders</div>
<div class="t" id="t62" style="top:739.39px;font-size:8.4px;color:#8a8a8a;font-style:italic;transform:translateX(410.04px) scaleX(0.9328)">(NAHB/Wells Fargo Housing Market Index (HMI))</div>
<div class="t" id="t63" style="top:89.85px;font-size:11.4px;color:#fff;font-weight:bold;-webkit-text-stroke:0.3px #fff;transform:translateX(13.32px) scaleX(0.7384)">MASTER BUILDERS</div>
<div class="t" id="t64" style="top:102.24px;font-size:7.4px;color:#fff;font-weight:bold;letter-spacing:7.2px;-webkit-text-stroke:0.2px #fff;transform:translateX(13.77px) scaleX(0.6514)">ASSOCIATION</div>
<div class="t" id="t65" style="top:110.17px;font-size:6.3px;color:#fff;font-weight:bold;font-style:italic;transform:translateX(14.26px) scaleX(0.7956)">of King and Snohomish Counties</div>
<div class="t" id="t66" style="top:611.09px;font-size:12.3px;color:#555a60;font-weight:bold;transform:translateX(167.33px) scaleX(1.0406)">National</div>
<div class="t" id="t67" style="top:611.09px;font-size:12.3px;color:#555a60;font-weight:bold;transform:translateX(221.04px) scaleX(1.0014)">and</div>
<div class="t" id="t68" style="top:611.09px;font-size:12.3px;color:#555a60;font-weight:bold;transform:translateX(247.09px) scaleX(0.9802)">Regional</div>
<div class="t" id="t69" style="top:611.09px;font-size:12.3px;color:#555a60;font-weight:bold;transform:translateX(301.60px) scaleX(1.0913)">HMI</div>
<div class="t" id="t70" style="top:611.09px;font-size:12.3px;color:#555a60;font-weight:bold;transform:translateX(330.05px) scaleX(0.9495)">Change</div>
<div class="t" id="t71" style="top:725.56px;font-size:8.2px;color:#3c3c3c;transform:translateX(200.58px) scaleX(1.0748)">National</div>
<div class="t" id="t72" style="top:725.56px;font-size:8.2px;color:#3c3c3c;transform:translateX(321.31px) scaleX(0.9842)">Regional</div>
<div class="t" id="t73" style="top:745.56px;font-size:8.2px;color:#3c3c3c;transform:translateX(243.28px) scaleX(1.0294)">Oct-24</div>
<div class="t" id="t74" style="top:745.56px;font-size:8.2px;color:#3c3c3c;transform:translateX(283.29px) scaleX(1.0397)">Oct-25</div>
<div class="t" id="t75" style="top:633.56px;font-size:8.2px;color:#3c3c3c;transform:translateX(138.28px) scaleX(1.0559)">50</div>
<div class="t" id="t76" style="top:649.56px;font-size:8.2px;color:#3c3c3c;transform:translateX(138.51px) scaleX(1.0287)">40</div>
<div class="t" id="t77" style="top:665.56px;font-size:8.2px;color:#3c3c3c;transform:translateX(138.28px) scaleX(1.0559)">30</div>
<div class="t" id="t78" style="top:681.56px;font-size:8.2px;color:#3c3c3c;transform:translateX(138.28px) scaleX(1.0591)">20</div>
<div class="t" id="t79" style="top:697.56px;font-size:8.2px;color:#3c3c3c;transform:translateX(138.06px) scaleX(1.0864)">10</div>
<div class="t" id="t80" style="top:713.56px;font-size:8.2px;color:#3c3c3c;transform:translateX(143.02px) scaleX(1.0886)">0</div>
</body>
</html>
